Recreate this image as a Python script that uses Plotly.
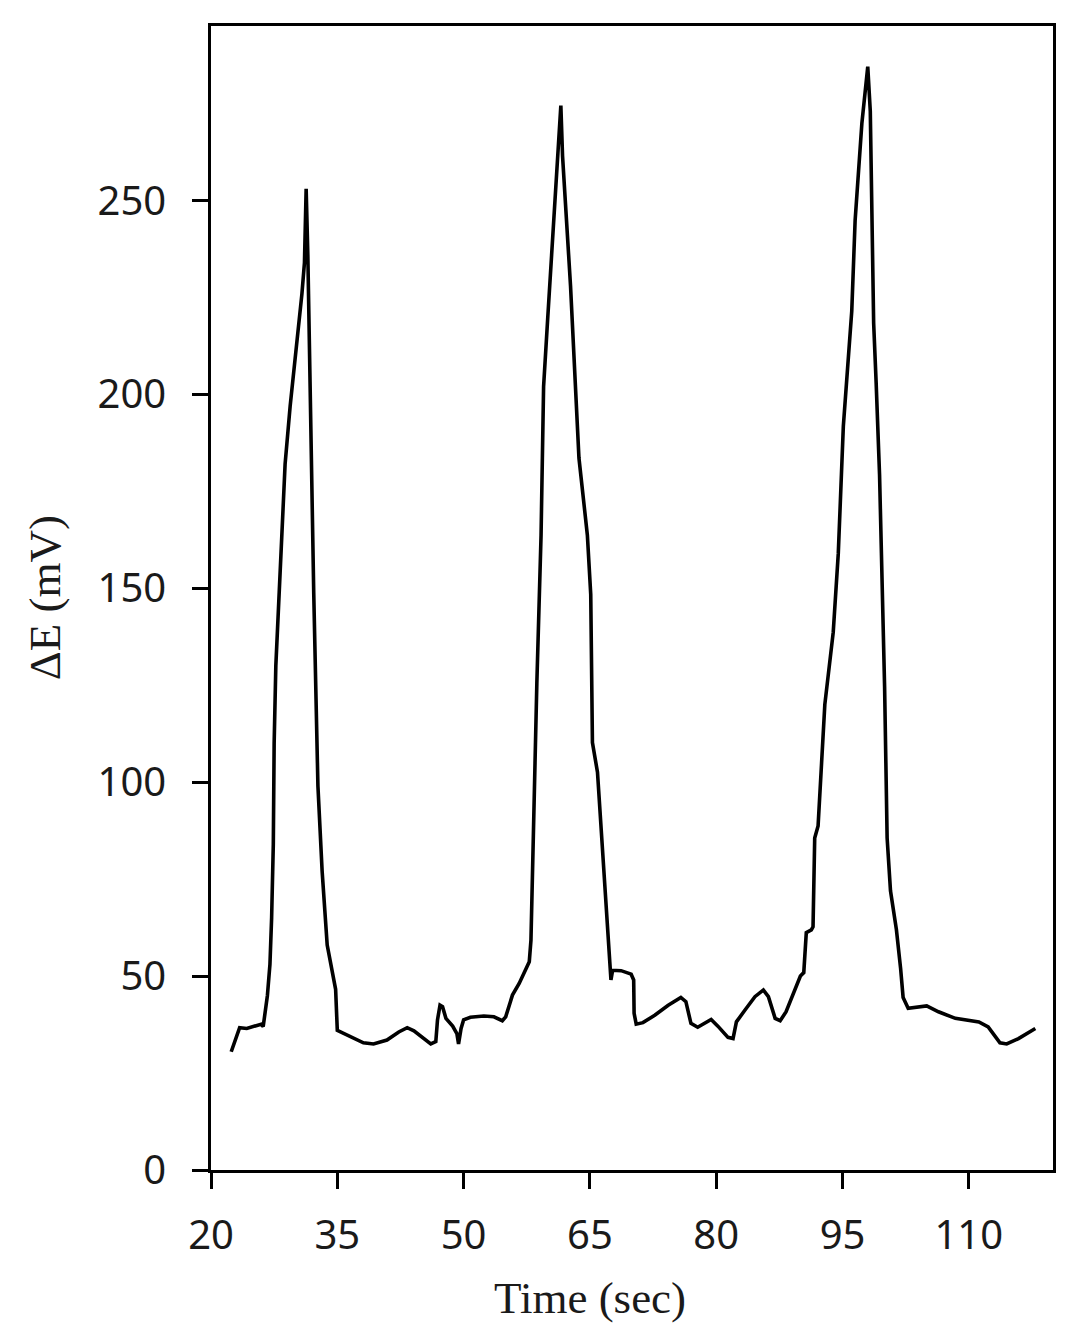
import plotly.graph_objects as go

# trace
time_sec = [
    22.4, 23.4, 24.25, 25.2, 25.95, 26.2, 26.7, 27.0, 27.2, 27.4, 27.5, 27.7,
    28.2, 28.8, 29.4, 30.0, 30.8, 31.1, 31.3, 31.5, 31.8, 32.2, 32.7, 33.2,
    33.8, 34.4, 34.8, 35.0, 36.15, 38.1, 39.3, 40.9, 42.3, 43.3, 44.1, 45.3,
    46.1, 46.7, 46.9, 47.2, 47.5, 47.9, 48.7, 49.2, 49.4, 49.7, 50.0, 50.8,
    52.4, 53.6, 54.6, 55.0, 55.8, 56.6, 57.4, 57.8, 58.0, 58.1, 58.3, 58.7,
    59.2, 59.5, 60.0, 60.6, 61.2, 61.55, 61.75, 62.7, 63.7, 64.7, 65.1, 65.3,
    65.9, 66.5, 66.9, 67.3, 67.5, 67.7, 68.7, 69.9, 70.2, 70.25, 70.5, 71.3,
    72.7, 74.3, 75.8, 76.4, 77.0, 77.8, 79.4, 80.2, 81.4, 82.0, 82.4, 83.4,
    84.6, 85.6, 86.2, 87.0, 87.6, 88.3, 89.3, 90.0, 90.4, 90.6, 90.7, 91.3,
    91.5, 91.7, 92.1, 92.9, 93.9, 94.5, 95.1, 96.1, 96.5, 97.3, 98.0, 98.3,
    98.7, 99.0, 99.4, 100.0, 100.3, 100.7, 101.4, 101.9, 102.2, 102.8, 105.0,
    106.4, 108.4, 111.2, 112.3, 113.7, 114.5, 115.9, 117.9,
]
delta_e_mv = [
    30.5, 36.7, 36.5, 37.1, 37.6, 37.0, 45.0, 53.0, 65.0, 84.0, 110.0, 130.0,
    156.0, 182.0, 197.0, 209.0, 226.0, 234.0, 253.0, 236.0, 193.0, 149.0, 99.0, 77.0,
    58.0, 51.0, 46.6, 36.0, 34.8, 32.8, 32.5, 33.5, 35.6, 36.7, 35.9, 33.9,
    32.5, 33.1, 38.7, 42.5, 42.1, 39.1, 37.1, 35.2, 32.5, 36.5, 38.7, 39.4,
    39.7, 39.5, 38.5, 39.5, 45.1, 48.1, 51.5, 53.7, 59.3, 69.6, 95.0, 125.5,
    163.7, 202.0, 220.0, 240.0, 260.0, 274.5, 261.5, 228.0, 183.6, 163.7, 148.4, 110.2,
    102.6, 82.7, 72.0, 56.7, 49.0, 51.5, 51.4, 50.5, 49.0, 40.4, 37.6, 38.0,
    39.9, 42.5, 44.5, 43.4, 37.8, 36.8, 38.8, 37.1, 34.2, 33.9, 38.2, 41.2,
    44.7, 46.4, 44.7, 39.1, 38.5, 40.8, 46.4, 50.0, 50.9, 60.6, 61.2, 61.9,
    62.7, 85.6, 88.7, 120.0, 138.7, 159.0, 191.8, 221.5, 244.9, 269.9, 284.5, 273.0,
    218.4, 202.8, 179.3, 124.6, 85.6, 72.0, 62.0, 52.0, 44.5, 41.7, 42.3,
    40.8, 39.1, 38.2, 36.9, 32.8, 32.5, 33.9, 36.5,
]

x_ticks = [20, 35, 50, 65, 80, 95, 110]
y_ticks = [0, 50, 100, 150, 200, 250]

fig = go.Figure()
fig.add_trace(go.Scatter(
    x=time_sec, y=delta_e_mv, mode="lines",
    line=dict(color="black", width=3.6),
    showlegend=False))

axis_style = dict(
    showline=True, linecolor="black", linewidth=2.5, mirror=True,
    showgrid=False, zeroline=False,
    ticks="outside", ticklen=16, tickwidth=2.5, tickcolor="black",
    tickfont=dict(family="Noto Sans", size=40, color="#1a1a1a"))

fig.update_xaxes(range=[20, 120], tickvals=x_ticks, ticklabelstandoff=12, **axis_style)
fig.update_yaxes(range=[0, 295], tickvals=y_ticks, ticklabelstandoff=18, **axis_style)

fig.add_annotation(
    text="Time (sec)", xref="paper", yref="paper", x=0.45, y=-0.112,
    xanchor="center", yanchor="middle", showarrow=False,
    font=dict(family="Liberation Serif", size=45, color="#1a1a1a"))
fig.add_annotation(
    text="ΔE (mV)", xref="paper", yref="paper", x=-0.197, y=0.5,
    xanchor="center", yanchor="middle", textangle=-90, showarrow=False,
    font=dict(family="Liberation Serif", size=45, color="#1a1a1a"))

# page body has an 8px margin, so keep the figure inside the window
fig.update_layout(
    width=1078, height=1330,
    margin=dict(l=203, r=33, t=18, b=168),
    plot_bgcolor="white", paper_bgcolor="white")

fig.write_html("out.html")
